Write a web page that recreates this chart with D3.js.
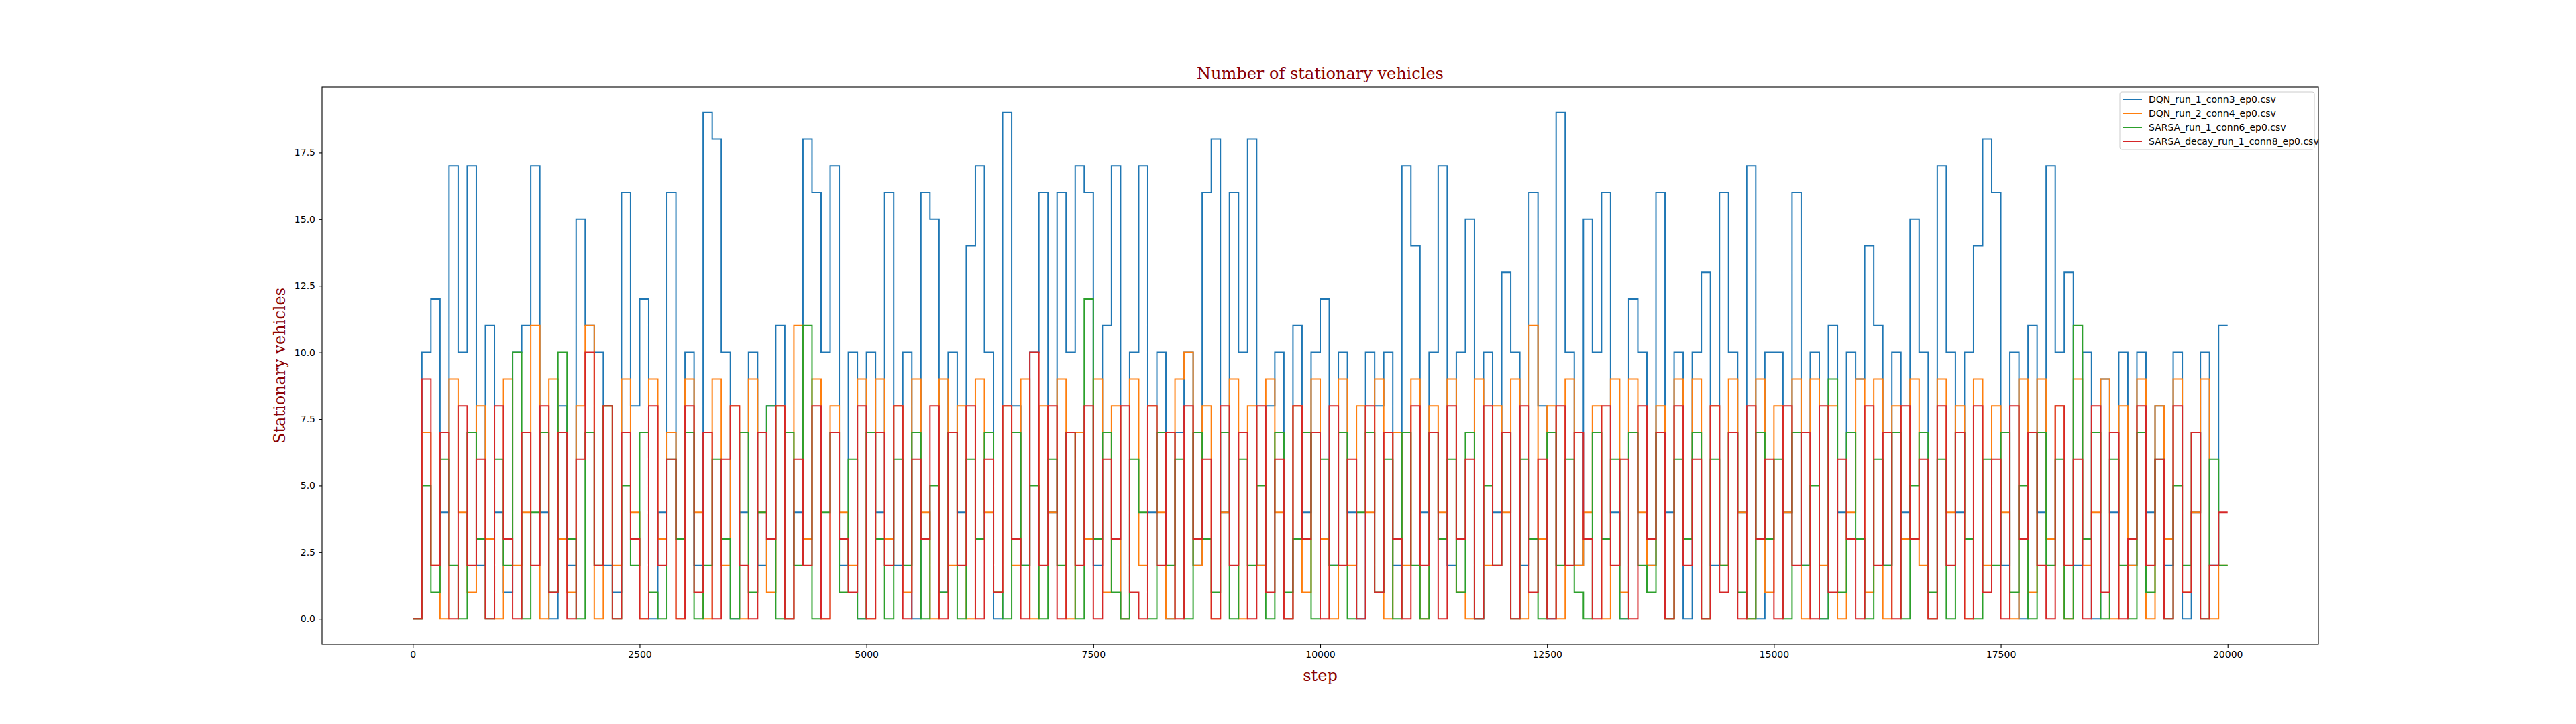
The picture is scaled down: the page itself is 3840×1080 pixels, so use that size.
<!DOCTYPE html>
<html>
<head>
<meta charset="utf-8">
<script src="https://cdn.jsdelivr.net/npm/d3@7"></script>
<style>
  body { margin: 0; background: #fff; }
  svg text { font-family: "DejaVu Sans", sans-serif; }
</style>
</head>
<body>
<svg id="chart" width="3840" height="1080"></svg>
<script>
// one value every 100 steps
const stepSize = 100;
const lastStep = 20000;

const seriesNames = ["DQN_run_1_conn3_ep0.csv", "DQN_run_2_conn4_ep0.csv",
  "SARSA_run_1_conn6_ep0.csv", "SARSA_decay_run_1_conn8_ep0.csv"];
const colors = ["#1f77b4", "#ff7f0e", "#2ca02c", "#d62728"];

const dqn1 = [
  0,10,12,4,17,10,17,2,11,4, 1,10,11,17,4,0,8,2,15,11,
  10,2,1,16,8,12,0,4,16,3, 10,2,19,18,10,0,4,10,2,8,
  11,0,4,18,16,10,17,2,10,0, 10,4,16,2,10,0,16,15,1,10,
  4,14,17,10,0,19,8,2,10,16, 4,16,10,17,16,2,11,17,0,10,
  17,4,10,0,7,10,2,16,18,4, 16,10,18,2,8,10,0,11,4,10,
  12,2,10,4,0,10,8,10,2,17, 14,4,10,17,2,10,15,0,10,4,
  13,10,2,16,8,0,19,10,2,15, 10,16,4,0,12,10,2,16,4,10,
  0,10,13,2,16,10,4,17,0,10, 10,4,16,2,10,0,11,4,10,9,
  14,11,2,10,4,15,10,0,17,10, 4,10,14,18,16,2,10,0,11,4,
  17,10,13,2,10,0,9,4,10,2, 10,4,8,2,10,0,4,10,2,11];
const dqn2 = [
  0,7,2,0,9,4,1,8,3,0, 9,2,4,11,0,9,3,1,8,11,
  0,8,2,9,4,0,9,3,7,0, 9,4,0,9,2,8,0,9,4,1,
  8,0,11,3,9,0,8,4,2,9, 0,9,3,8,1,9,4,0,9,2,
  8,0,9,4,1,8,2,9,0,8, 4,9,0,7,3,9,1,8,0,9,
  2,8,4,0,9,10,2,8,0,4, 9,0,8,2,9,4,0,8,1,9,
  3,0,9,2,8,4,9,0,7,2, 9,0,8,4,9,1,0,9,2,8,
  4,9,0,11,3,8,0,9,2,4, 8,0,9,1,9,4,2,8,0,9,
  3,9,0,8,2,9,4,0,9,1, 8,4,9,0,9,2,8,0,4,9,
  1,9,0,8,3,9,2,0,9,4, 8,0,9,2,8,4,0,9,1,9,
  3,8,0,9,2,4,9,0,8,2, 9,0,8,3,9,1,4,9,0,2];
const sarsa = [
  0,5,1,6,2,0,7,3,0,6, 2,10,0,4,7,1,10,3,0,7,
  2,8,0,5,2,7,1,0,6,3, 7,0,2,6,3,0,7,1,4,8,
  0,7,2,11,0,4,7,1,6,0, 7,3,0,6,2,7,0,5,1,7,
  0,6,3,7,1,0,7,2,5,0, 6,2,7,0,12,3,7,1,0,6,
  4,0,7,2,6,0,7,3,1,7, 0,6,2,5,0,7,1,3,7,0,
  6,2,7,0,4,7,1,6,0,7, 2,0,7,3,6,1,7,0,5,2,
  7,0,6,3,0,7,2,6,1,0, 7,3,6,0,7,2,1,7,0,6,
  3,7,0,6,2,7,1,0,7,3, 6,0,7,2,5,0,9,1,7,3,
  0,6,2,7,0,5,7,1,6,0, 7,3,0,6,2,7,1,5,0,7,
  2,6,0,11,3,7,0,6,2,0, 7,1,6,0,5,2,7,0,6,2];
const sarsaDecay = [
  0,9,2,7,0,8,2,6,0,8, 3,0,7,2,8,1,7,0,6,10,
  2,8,0,7,3,0,8,2,6,0, 8,1,7,0,6,8,2,0,7,3,
  8,0,6,2,8,0,7,3,1,8, 0,7,2,8,0,6,3,8,0,7,
  2,8,0,6,1,8,3,0,10,2, 8,0,7,2,8,0,6,3,8,1,
  0,8,2,7,0,8,3,6,0,8, 2,7,0,8,1,6,0,8,3,7,
  0,8,2,6,0,8,1,7,3,0, 8,2,7,0,8,3,6,0,8,2,
  7,0,8,1,6,0,8,2,7,3, 0,8,2,6,0,8,3,7,0,8,
  2,6,0,8,1,7,0,8,3,6, 0,8,2,7,0,8,1,6,3,0,
  8,2,7,0,8,3,6,0,8,2, 7,0,8,1,6,0,8,3,7,2,
  0,8,2,6,0,8,1,7,0,3, 8,2,6,0,8,1,7,0,2,4];

const xTicks = [0, 2500, 5000, 7500, 10000, 12500, 15000, 17500, 20000];
const yTicks = [0, 2.5, 5, 7.5, 10, 12.5, 15, 17.5];

const allSeries = [dqn1, dqn2, sarsa, sarsaDecay];

const plotLeft = 480, plotRight = 3456, plotTop = 130, plotBottom = 961;
const svg = d3.select("#chart");

const x = d3.scaleLinear().domain([-1000, 21000]).range([plotLeft, plotRight]);
const y = d3.scaleLinear().domain([-0.95, 19.95]).range([plotBottom, plotTop]);

const line = d3.line()
  .x(d => x(d[0]))
  .y(d => y(d[1]))
  .curve(d3.curveStepAfter);

allSeries.forEach((vals, k) => {
  const pts = vals.map((v, i) => [i * stepSize, v]);
  pts.push([lastStep, vals[vals.length - 1]]);
  svg.append("path")
    .datum(pts)
    .attr("fill", "none")
    .attr("stroke", colors[k])
    .attr("stroke-width", 2)
    .attr("d", line);
});

// axes
const xAxis = svg.append("g")
  .attr("transform", "translate(0," + plotBottom + ")")
  .call(d3.axisBottom(x).tickValues(xTicks).tickFormat(d3.format("d")).tickSizeOuter(0).tickSize(5).tickPadding(5));
const yAxis = svg.append("g")
  .attr("transform", "translate(" + plotLeft + ",0)")
  .call(d3.axisLeft(y).tickValues(yTicks).tickFormat(d3.format(".1f")).tickSizeOuter(0).tickSize(5).tickPadding(5));
[xAxis, yAxis].forEach(a => {
  a.select(".domain").remove();
  a.selectAll("text").style("font-size", "14px").attr("fill", "#000");
  a.selectAll("line").attr("stroke", "#000").attr("stroke-width", 1.1);
});

svg.append("rect")
  .attr("x", plotLeft).attr("y", plotTop)
  .attr("width", plotRight - plotLeft).attr("height", plotBottom - plotTop)
  .attr("fill", "none").attr("stroke", "#000").attr("stroke-width", 1.1);

// labels
svg.append("text")
  .attr("x", (plotLeft + plotRight) / 2).attr("y", plotTop - 12)
  .attr("text-anchor", "middle")
  .style("font-family", "DejaVu Serif, serif").style("font-size", "24px")
  .attr("fill", "darkred")
  .text("Number of stationary vehicles");

svg.append("text")
  .attr("x", (plotLeft + plotRight) / 2).attr("y", plotBottom + 55)
  .attr("text-anchor", "middle")
  .style("font-family", "DejaVu Serif, serif").style("font-size", "24px")
  .attr("fill", "darkred")
  .text("step");

svg.append("text")
  .attr("transform", "translate(" + (plotLeft - 55) + "," + ((plotTop + plotBottom) / 2) + ") rotate(-90)")
  .attr("text-anchor", "middle")
  .style("font-family", "DejaVu Serif, serif").style("font-size", "24px")
  .attr("fill", "darkred")
  .text("Stationary vehicles");

// legend
const lg = svg.append("g");
lg.append("rect")
  .attr("x", 3160).attr("y", 137).attr("width", 290).attr("height", 86)
  .attr("rx", 3).attr("fill", "#fff").attr("fill-opacity", 0.8)
  .attr("stroke", "#ccc");
seriesNames.forEach((name, k) => {
  const cy = 148 + k * 21;
  lg.append("line")
    .attr("x1", 3165).attr("x2", 3193).attr("y1", cy).attr("y2", cy)
    .attr("stroke", colors[k]).attr("stroke-width", 2);
  lg.append("text")
    .attr("x", 3203).attr("y", cy + 5)
    .style("font-size", "14px")
    .text(name);
});
</script>
</body>
</html>
